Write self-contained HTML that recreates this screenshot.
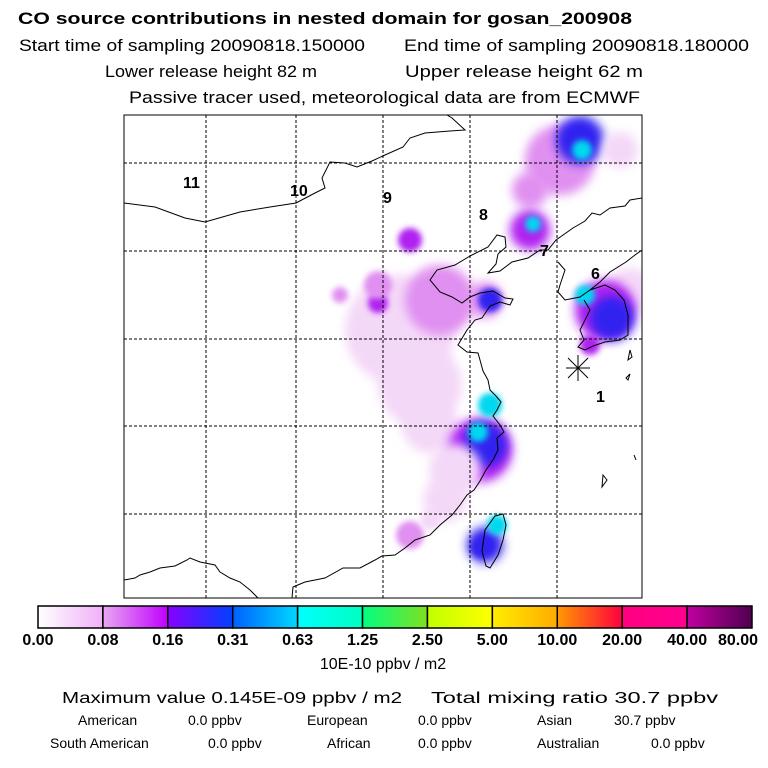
<!DOCTYPE html>
<html><head><meta charset="utf-8"><style>
body{margin:0;background:#fff}
svg{display:block;font-family:"Liberation Sans",sans-serif}
</style></head><body>
<svg width="768" height="768" viewBox="0 0 768 768">
<defs>
<filter id="blur" x="-50%" y="-50%" width="200%" height="200%"><feGaussianBlur stdDeviation="5"/></filter>
<filter id="blur2" x="-50%" y="-50%" width="200%" height="200%"><feGaussianBlur stdDeviation="3"/></filter>
<clipPath id="mapclip"><rect x="124" y="115" width="518" height="483"/></clipPath>
</defs>
<g fill="#000">
<text x="18" y="24" font-size="17" font-weight="bold" textLength="614" lengthAdjust="spacingAndGlyphs">CO  source contributions in nested domain for gosan_200908</text>
<text x="19" y="51" font-size="17" textLength="346" lengthAdjust="spacingAndGlyphs">Start time of sampling 20090818.150000</text>
<text x="404" y="51" font-size="17" textLength="345" lengthAdjust="spacingAndGlyphs">End time of sampling 20090818.180000</text>
<text x="105" y="77" font-size="17" textLength="212" lengthAdjust="spacingAndGlyphs">Lower release height   82 m</text>
<text x="405" y="77" font-size="17" textLength="238" lengthAdjust="spacingAndGlyphs">Upper release height   62 m</text>
<text x="129" y="103" font-size="17" textLength="511" lengthAdjust="spacingAndGlyphs">Passive tracer used, meteorological data are from ECMWF</text>
</g>
<g clip-path="url(#mapclip)">
<g id="plumes"></g>
<g fill="none" stroke="#000" stroke-width="1">
<path d="M124,203 L155,207 L185,218 L205,222 L240,212 L270,207 L296,203 L315,193 L325,188 L322,178 L330,162 L345,163 L357,167 L372,161 L385,155 L403,147 L410,138 L425,133 L450,131 L465,130 L452,118 L447,115"/>
<path d="M470,256 L488,247 L497,235 L505,237 L506,247 L498,254 L496,264 L488,273 L500,271 L512,262 L528,258 L540,250 L548,250 L556,240 L573,228 L585,221 L592,213 L600,215 L610,208 L625,206 L630,200 L642,198"/>
<path d="M470,256 L455,265 L437,270 L430,280 L440,292 L452,297 L462,303 L470,297 L480,293 L493,291 L505,298 L513,299 L510,305 L500,302 L490,306 L482,318 L475,320 L467,330 L458,345 L467,352 L478,353 L480,360 L483,371 L488,380 L490,390 L496,396 L501,402 L497,410 L493,416 L500,425 L504,432 L497,438 L498,450 L493,460 L486,470 L480,481 L474,490 L467,495 L460,505 L452,515 L440,525 L430,535 L415,540 L405,548 L395,555 L382,556 L375,560 L360,568 L343,568 L325,578 L305,582 L293,587 L292,598"/>
<path d="M124,580 L135,578 L140,575 L150,572 L160,568 L175,566 L187,560 L190,558 L200,562 L215,565 L220,572 L230,578 L240,582 L250,590 L258,598"/>
<path d="M558,262 L565,270 L560,285 L558,292 L565,300 L580,297 L590,290 L600,282 L610,272 L626,262 L635,255 L642,250"/>
<path d="M590,290 L605,285 L615,290 L624,300 L628,315 L628,335 L620,340 L605,342 L593,346 L585,350 L578,347 L584,340 L580,330 L585,320 L590,310 L584,300"/>
<path d="M482,551 L485,530 L495,516 L503,514 L506,525 L503,540 L498,555 L490,568 L486,566 Z"/>
<path d="M630,350 L632,357 L628,360 Z M626,378 L630,374 L628,380 Z M634,455 L636,460 Z M603,475 L607,480 L602,487 Z"/>
</g>
<g stroke="#000" stroke-width="1" stroke-dasharray="3,2">
<line x1="206" y1="115" x2="206" y2="598"/><line x1="296" y1="115" x2="296" y2="598"/>
<line x1="383" y1="115" x2="383" y2="598"/><line x1="470" y1="115" x2="470" y2="598"/>
<line x1="557" y1="115" x2="557" y2="598"/>
<line x1="124" y1="163" x2="642" y2="163"/><line x1="124" y1="251" x2="642" y2="251"/>
<line x1="124" y1="339" x2="642" y2="339"/><line x1="124" y1="426" x2="642" y2="426"/>
<line x1="124" y1="514" x2="642" y2="514"/>
</g>
<g font-size="16" font-weight="bold" fill="#000">
<text x="183" y="188">11</text><text x="290" y="196">10</text><text x="383" y="203">9</text>
<text x="479" y="220">8</text><text x="540" y="256">7</text><text x="591" y="279">6</text><text x="596" y="402">1</text>
</g>
<g stroke="#000" stroke-width="1">
<line x1="566" y1="368" x2="590" y2="368"/><line x1="578" y1="355" x2="578" y2="381"/>
<line x1="568" y1="358" x2="588" y2="378"/><line x1="588" y1="358" x2="568" y2="378"/>
</g>
</g>
<rect x="124" y="115" width="518" height="483" fill="none" stroke="#000" stroke-width="1"/>
<g id="colorbar"></g>
<text x="383" y="669" font-size="16" text-anchor="middle">10E-10 ppbv / m2</text>
<g fill="#000">
<text x="62" y="703" font-size="16" textLength="340" lengthAdjust="spacingAndGlyphs">Maximum value  0.145E-09 ppbv / m2</text>
<text x="431" y="703" font-size="16" textLength="287" lengthAdjust="spacingAndGlyphs">Total mixing ratio       30.7 ppbv</text>
<g font-size="14">
<text x="78" y="725">American</text><text x="188" y="725">0.0 ppbv</text>
<text x="307" y="725">European</text><text x="418" y="725">0.0 ppbv</text>
<text x="537" y="725">Asian</text><text x="614" y="725">30.7 ppbv</text>
<text x="50" y="748">South American</text><text x="208" y="748">0.0 ppbv</text>
<text x="327" y="748">African</text><text x="418" y="748">0.0 ppbv</text>
<text x="537" y="748">Australian</text><text x="651" y="748">0.0 ppbv</text>
</g></g>
</svg>
<script>
const tickLabels=["0.00","0.08","0.16","0.31","0.63","1.25","2.50","5.00","10.00","20.00","40.00","80.00"];
const segStart=["#ffffff","#e8a8f0","#8800ff","#0060ff","#00ffff","#00ff80","#c0ff00","#ffee00","#ff9900","#ff0080","#c000a0"];
const segEnd=["#f0b0f8","#c000ff","#0040ff","#00d8ff","#00ffc0","#80e020","#ffff00","#ffaa00","#ff0040","#ff0090","#500050"];
const plumeColors=["#f4d8f8","#e090f0","#b020f0","#3020f0","#00d8f0"];
// plume blobs: [x, y, radius, level index]
const blobs=[[400,330,55,0],[420,385,42,0],[440,300,35,1],[430,425,28,0],[410,240,12,2],[378,303,10,2],[340,295,8,1],[378,285,14,1],
[560,160,35,1],[580,140,24,3],[582,150,10,4],[530,190,18,1],[530,230,20,2],[533,224,8,4],[620,150,18,0],[630,290,22,0],
[605,310,30,2],[612,318,22,3],[585,295,10,4],[590,345,10,2],[485,300,18,1],[490,300,12,3],
[480,450,32,2],[485,445,22,3],[490,405,12,4],[478,432,10,4],[455,470,26,0],[445,500,22,0],
[485,545,18,3],[497,525,10,4],[480,548,8,3],[410,535,14,1],[430,520,10,0]];
const svgNS="http://www.w3.org/2000/svg";
const pl=document.getElementById('plumes');
for(const b of blobs){
 const c=document.createElementNS(svgNS,'circle');
 
 
 c.setAttribute('cx',b[0]);c.setAttribute('cy',b[1]);c.setAttribute('r',b[2]);
 c.setAttribute('fill',plumeColors[b[3]]);
 c.setAttribute('filter',b[2]>15?'url(#blur)':'url(#blur2)');
 pl.appendChild(c);
}
const cb=document.getElementById('colorbar');
const x0=38,x1=752,y0=606,h=22,n=segStart.length;
const sx=i=>x0+(x1-x0)*i/n;
const defs=document.querySelector('defs');
for(let i=0;i<n;i++){
 const g=document.createElementNS(svgNS,'linearGradient');
 g.setAttribute('id','g'+i);
 g.innerHTML='<stop offset="0" stop-color="'+segStart[i]+'"/><stop offset="1" stop-color="'+segEnd[i]+'"/>';
 defs.appendChild(g);
 const r=document.createElementNS(svgNS,'rect');
 
 
 r.setAttribute('x',sx(i));r.setAttribute('y',y0);r.setAttribute('width',sx(i+1)-sx(i));r.setAttribute('height',h);
 r.setAttribute('fill','url(#g'+i+')');r.setAttribute('stroke','#000');r.setAttribute('stroke-width','1.5');
 cb.appendChild(r);
}
tickLabels.forEach((t,i)=>{
 const tx=document.createElementNS(svgNS,'text');
 
 
 tx.setAttribute('x',i==n?x1+6:sx(i));tx.setAttribute('y',645);
 tx.setAttribute('font-size','16');tx.setAttribute('font-weight','bold');
 tx.setAttribute('text-anchor',i==n?'end':'middle');
 tx.textContent=t;cb.appendChild(tx);
});
</script>
</body></html>
